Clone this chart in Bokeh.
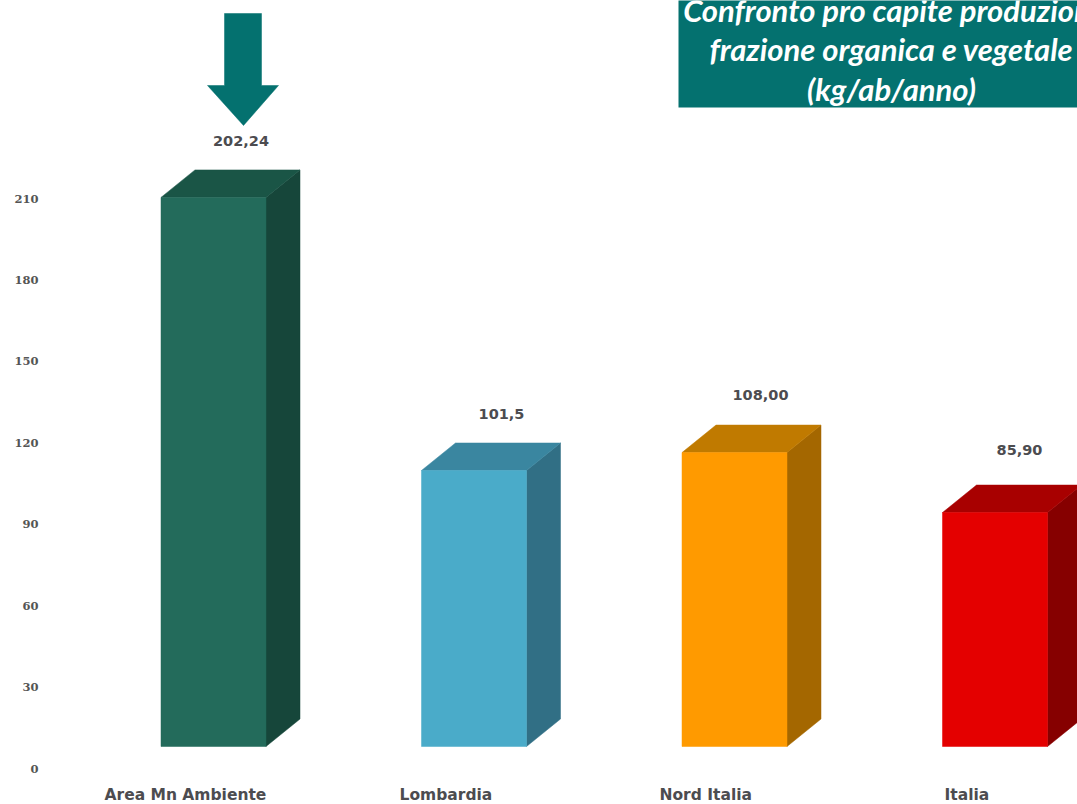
from bokeh.plotting import figure
from bokeh.models import Range1d, FixedTicker
from bokeh.core.properties import value
from bokeh.embed import file_html
from bokeh.resources import INLINE

# ---- data ----
categories = ["Area Mn Ambiente", "Lombardia", "Nord Italia", "Italia"]
bar_tops = [210.4, 109.8, 116.4, 94.3]
bar_base = 8.1
value_labels = ["202,24", "101,5", "108,00", "85,90"]
y_ticks = [0, 30, 60, 90, 120, 150, 180, 210]
title_lines = ["Confronto pro capite produzione", "frazione organica e vegetale", "(kg/ab/anno)"]

# ---- colours and styles ----
front = ["#236b5b", "#4aabc9", "#ff9a00", "#e40000"]
roof = ["#1a5546", "#3a86a0", "#c07a00", "#a80000"]
side = ["#16463a", "#316f85", "#a46700", "#860000"]
TEAL = "#04716f"
TEXT = "#4c4c50"

W, H = 1077, 804
FRAME_LEFT = 45
STEP_PX = 260.5
X0_PX = 213
PX_PER_UNIT = 570 / 210
ZERO_PX = 768
BAR_W = 105 / STEP_PX
DX = 34 / STEP_PX
DY = 27.5 / PX_PER_UNIT
label_raise_px = [56, 56, 58, 63]
label_dx_px = [27.5, 27.5, 26, 24.5]
cat_start_px = [104, 399, 659, 944]
title_center_px = [894, 891, 891]


def fx(px):
    return (px - X0_PX) / STEP_PX


def fy(py):
    return (ZERO_PX - py) / PX_PER_UNIT


p = figure(
    width=W, height=H, output_backend="svg", toolbar_location=None,
    x_range=Range1d(fx(FRAME_LEFT), fx(W)), y_range=Range1d(fy(H), fy(0)),
    min_border_left=FRAME_LEFT, min_border_right=0, min_border_top=0, min_border_bottom=0,
    background_fill_color="white", border_fill_color="white",
)
p.outline_line_color = None
p.grid.visible = False
p.xaxis.visible = False

ax = p.yaxis[0]
ax.ticker = FixedTicker(ticks=y_ticks)
ax.axis_line_color = None
ax.major_tick_line_color = None
ax.minor_tick_line_color = None
ax.major_label_standoff = 1
ax.major_label_text_font = "DejaVu Serif"
ax.major_label_text_font_size = "11.5px"
ax.major_label_text_color = "#555555"
ax.major_label_text_font_style = "bold"

n = len(categories)
lefts = [i - BAR_W / 2 for i in range(n)]
rights = [i + BAR_W / 2 for i in range(n)]

p.patches(
    [[r, r + DX, r + DX, r] for r in rights],
    [[bar_base, bar_base + DY, t + DY, t] for t in bar_tops],
    fill_color=side, line_color=side, line_width=0.5,
)
p.patches(
    [[l, l + DX, r + DX, r] for l, r in zip(lefts, rights)],
    [[t, t + DY, t + DY, t] for t in bar_tops],
    fill_color=roof, line_color=roof, line_width=0.5,
)
p.quad(left=lefts, right=rights, bottom=bar_base, top=bar_tops, fill_color=front, line_color=front, line_width=0.5)

# value labels above the bars
p.text(
    x=[i + d / STEP_PX for i, d in enumerate(label_dx_px)],
    y=[t + r / PX_PER_UNIT for t, r in zip(bar_tops, label_raise_px)],
    text=value_labels, text_align="center", text_baseline="middle",
    text_font=value("DejaVu Sans"), text_font_size="14.5px", text_font_style="bold", text_color=TEXT,
)

# category labels
p.text(
    x=[fx(v) for v in cat_start_px], y=[fy(794)] * n, text=categories,
    text_align="left", text_baseline="middle",
    text_font=value("DejaVu Sans"), text_font_size="15.5px", text_font_style="bold", text_color=TEXT,
)

# arrow over the first bar
p.patch(
    [fx(v) for v in [224, 261, 261, 278, 243, 207, 224]],
    [fy(v) for v in [13, 13, 85, 85, 125, 85, 85]],
    fill_color=TEAL, line_color=TEAL, line_width=0.5,
)

# title box, cut by the picture's edges
p.quad(left=fx(678), right=fx(W + 5), top=fy(-5), bottom=fy(107), fill_color=TEAL, line_color=None)
p.text(
    x=[fx(v) for v in title_center_px], y=[fy(v) for v in [9, 48, 88]], text=title_lines,
    text_align="center", text_baseline="middle",
    text_font=value("Lato"), text_font_size="31px", text_font_style="bold italic", text_color="white",
)

open("out.html", "w").write(file_html(p, INLINE))
